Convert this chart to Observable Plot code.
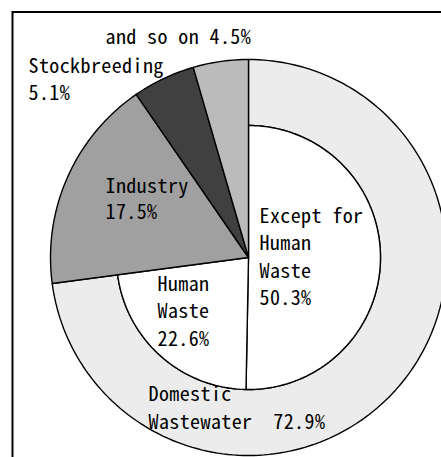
<!DOCTYPE html>
<html><head><meta charset="utf-8">
<script src="https://cdn.jsdelivr.net/npm/d3@7"></script>
<script src="https://cdn.jsdelivr.net/npm/@observablehq/plot@0.6"></script>
<style>html,body{margin:0;padding:0;background:#fff}#chart svg{display:block}</style>
</head><body><div id="chart"></div>
<script>
// ---- data ----
const categories = ["Except for Human Waste", "Human Waste", "Industry", "Stockbreeding", "and so on"];
const shares = [50.3, 22.6, 17.5, 5.1, 4.5];
const parentGroup = ["Domestic Wastewater", "Domestic Wastewater", null, null, null];
const groupName = "Domestic Wastewater";
const groupShare = 72.9;
const labelTexts = [
  ["and so on 4.5%"],
  ["Stockbreeding", "5.1%"],
  ["Industry", "17.5%"],
  ["Except for", "Human", "Waste", "50.3%"],
  ["Human", "Waste", "22.6%"],
  ["Domestic", "Wastewater  72.9%"]
];

// ---- layout (pixels) ----
const W = 441, H = 457;
const cx = 248, cy = 257, R = 198, r = 132;
const labelPos = [
  {x: 105, y: 43, lh: 25},
  {x: 28, y: 72.5, lh: 26.5},
  {x: 105, y: 192, lh: 26.5},
  {x: 259, y: 222, lh: 27.6},
  {x: 157, y: 290, lh: 27.5},
  {x: 148, y: 400, lh: 28}
];
const fillColors = {
  "Domestic Wastewater": "#ececec",
  "Except for Human Waste": "#ffffff",
  "Human Waste": "#ffffff",
  "Industry": "#a0a0a0",
  "Stockbreeding": "#404040",
  "and so on": "#bbbbbb"
};

// ---- geometry from data ----
const total = d3.sum(shares);
function pt(f, rad) {
  const a = 2 * Math.PI * f;
  return [cx + rad * Math.sin(a), cy - rad * Math.cos(a)];
}
function arcPts(f0, f1, rad) {
  const n = Math.max(2, Math.ceil((f1 - f0) * 240));
  const out = [];
  for (let i = 0; i <= n; i++) out.push(pt(f0 + (f1 - f0) * i / n, rad));
  return out;
}
const polys = [];
function addPoly(key, pts) { pts.forEach(([x, y], i) => polys.push({key, x, y, i})); }
const gf = groupShare / total;
addPoly(groupName, [...arcPts(0, gf, R), ...arcPts(0, gf, r).reverse()]);
let acc = 0;
categories.forEach((c, k) => {
  const f0 = acc / total, f1 = (acc + shares[k]) / total;
  acc += shares[k];
  const rad = parentGroup[k] ? r : R;
  addPoly(c, [[cx, cy], ...arcPts(f0, f1, rad)]);
});

const textRows = [];
labelTexts.forEach((lines, j) => lines.forEach((t, i) => textRows.push({
  text: t, x: labelPos[j].x, y: labelPos[j].y + i * labelPos[j].lh
})));

const keys = Object.keys(fillColors);
const chart = Plot.plot({
  width: W, height: H,
  margin: 0,
  x: {domain: [0, W], range: [0, W], axis: null},
  y: {domain: [0, H], range: [0, H], axis: null},
  color: {domain: keys, range: keys.map(k => fillColors[k])},
  marks: [
    Plot.line(polys, {x: "x", y: "y", z: "key", fill: "key", stroke: "#000", strokeWidth: 1.4, curve: "linear-closed", strokeLinejoin: "round"}),
    Plot.rect([{x1: 12.5, y1: 12, x2: W + 20, y2: H + 20}], {x1: "x1", x2: "x2", y1: "y1", y2: "y2", fill: "none", stroke: "#000", strokeWidth: 2}),
    Plot.text(textRows, {x: "x", y: "y", text: "text", textAnchor: "start", lineAnchor: "bottom",
      fontSize: 20, fill: "#000",
      fontFamily: '"Noto Sans Mono CJK JP", "Noto Sans CJK JP", "DejaVu Sans Mono", monospace'})
  ]
});
d3.select(chart).selectAll("text").attr("letter-spacing", "0.4px").style("white-space", "pre");
document.getElementById("chart").appendChild(chart);
</script>
</body></html>
